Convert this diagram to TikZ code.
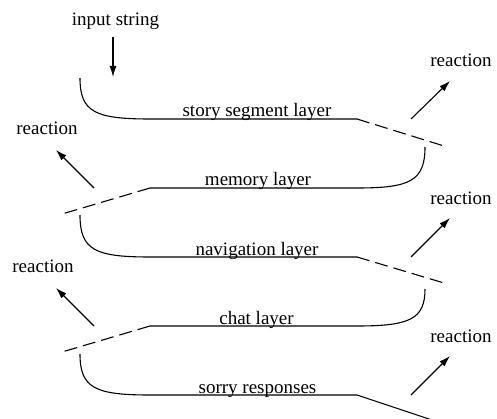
\documentclass[tikz,border=0pt]{standalone}
\usepackage{fontspec}
\setmainfont{Liberation Serif}
\usetikzlibrary{arrows.meta}

\tikzset{
  layerline/.style={line width=1.1pt},
  gapline/.style={line width=1.1pt, dash pattern=on 13pt off 6pt},
  reactarrow/.style={line width=1.1pt, -{Latex[length=11pt,width=7pt]}},
  lbl/.style={font=\fontsize{19}{22}\selectfont, inner sep=0pt, anchor=base}
}

\begin{document}
\begin{tikzpicture}[x=1pt, y=-1pt]
  \useasboundingbox (0,0) rectangle (497,419);

  \node[lbl] at (115.5,26) (inp) {input string};
  \coordinate (inpa) at (113,37);
  \coordinate (inpb) at (113,77);
  \draw[reactarrow] (inpa)--(inpb);

  % story segment layer
  \coordinate (s1) at (80,78);
  \coordinate (s2) at (150,119);
  \coordinate (s3) at (357,119);
  \coordinate (s4) at (444,146);
  \draw[layerline] (s1) .. controls (80,112) and (95,119) .. (s2) -- (s3);
  \draw[gapline] (s3)--(s4);
  \node[lbl] at (257,117) (story) {story segment layer};

  % memory layer
  \coordinate (m1) at (425,147);
  \coordinate (m2) at (357,188);
  \coordinate (m3) at (150,188);
  \coordinate (m4) at (62,214);
  \draw[layerline] (m1) .. controls (425,181) and (410,188) .. (m2) -- (m3);
  \draw[gapline] (m3)--(m4);
  \node[lbl] at (258,186) (memory) {memory layer};

  % navigation layer
  \coordinate (n1) at (80,215);
  \coordinate (n2) at (150,257);
  \coordinate (n3) at (357,257);
  \coordinate (n4) at (444,283);
  \draw[layerline] (n1) .. controls (80,250) and (95,257) .. (n2) -- (n3);
  \draw[gapline] (n3)--(n4);
  \node[lbl] at (257,255) (navigation) {navigation layer};

  % chat layer
  \coordinate (c1) at (425,289);
  \coordinate (c2) at (357,326);
  \coordinate (c3) at (150,326);
  \coordinate (c4) at (62,352);
  \draw[layerline] (c1) .. controls (425,319) and (410,326) .. (c2) -- (c3);
  \draw[gapline] (c3)--(c4);
  \node[lbl] at (256.5,324) (chat) {chat layer};

  % sorry responses
  \coordinate (r1) at (80,354);
  \coordinate (r2) at (150,395);
  \coordinate (r3) at (357,395);
  \coordinate (r4) at (432,420);
  \draw[layerline] (r1) .. controls (80,388) and (95,395) .. (r2) -- (r3) -- (r4);
  \node[lbl] at (257.5,393) (sorry) {sorry responses};

  % reactions
  \node[lbl] at (461,66.5) (re1) {reaction};
  \node[lbl] at (47,134.5) (re2) {reaction};
  \node[lbl] at (461,204.5) (re3) {reaction};
  \node[lbl] at (43,272.5) (re4) {reaction};
  \node[lbl] at (461,342.5) (re5) {reaction};

  \coordinate (a1) at (411,119);
  \coordinate (b1) at (450,81);
  \coordinate (a2) at (94,188);
  \coordinate (b2) at (56,150);
  \coordinate (a3) at (411,257);
  \coordinate (b3) at (450,218);
  \coordinate (a4) at (94,326);
  \coordinate (b4) at (56,288);
  \coordinate (a5) at (411,395);
  \coordinate (b5) at (450,356);
  \foreach \i in {1,...,5} {
    \draw[reactarrow] (a\i)--(b\i);
  }
\end{tikzpicture}
\end{document}
